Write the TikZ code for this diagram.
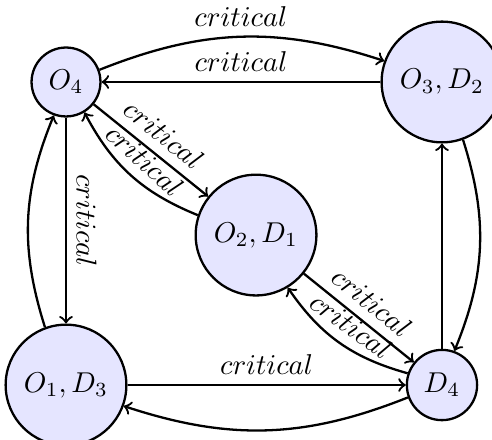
\documentclass[tikz,border=0pt]{standalone}
\usetikzlibrary{calc}

\begin{document}
\begin{tikzpicture}[
    state/.style={draw, thick, circle, fill=blue!10},
    pair/.style={state, inner sep=4.5pt},
    link/.style={->, thick}]
    \useasboundingbox (-0.809, -0.662) rectangle (5.221, 4.719);

    \node [pair] (O1D3) at (0, 0) {\(O_1, D_3\)};
    \node [state] (D4) at ($(O1D3) + (4.608, 0)$) {\(D_4\)};
    \node [state] (O4) at ($(O1D3) + (0, 3.714)$) {\(O_4\)};
    \node [pair] (O3D2) at ($(D4) + (0, 3.714)$) {\(O_3, D_2\)};
    \node [pair] (O2D1) at ($(O1D3) + (2.329, 1.838)$) {\(O_2, D_1\)};

    % outer ring
    \draw [link] (O4) to [bend left=20] node[above] {\(critical\)} (O3D2);
    \draw [link] (O3D2) -- node[above] {\(critical\)} (O4);
    \draw [link] (O4) -- node[above, sloped] {\(critical\)} (O1D3);
    \draw [link] (O1D3) to [bend left=20] (O4);
    \draw [link] (O1D3) -- node[above] {\(critical\)} (D4);
    \draw [link] (D4) to [bend left=20] (O1D3);
    \draw [link] (D4) -- (O3D2);
    \draw [link] (O3D2) to [bend left=20] (D4);

    % through the middle
    \draw [link] (O4) -- node[above, sloped] {\(critical\)} (O2D1);
    \draw [link] (O2D1) to [bend left=20] node[above, sloped] {\(critical\)} (O4);
    \draw [link] (O2D1) -- node[above, sloped] {\(critical\)} (D4);
    \draw [link] (D4) to [bend left=20] node[above, sloped] {\(critical\)} (O2D1);
\end{tikzpicture}
\end{document}
